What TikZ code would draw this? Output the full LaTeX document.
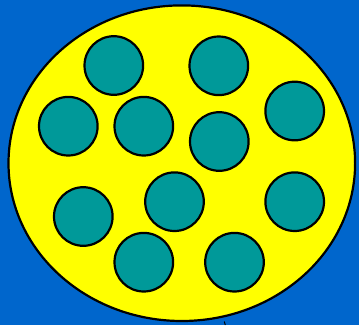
\documentclass[tikz,border=0pt]{standalone}
\usetikzlibrary{shapes.geometric}
\definecolor{bgblue}{RGB}{0,102,204}
\definecolor{cellyellow}{RGB}{255,255,0}
\definecolor{dotteal}{RGB}{0,153,153}
\tikzset{
  dot/.style={circle, draw=black, line width=2.2pt, fill=dotteal, inner sep=0pt, minimum size=58.6pt},
  cell/.style={ellipse, draw=black, line width=2.2pt, fill=cellyellow, inner sep=0pt, minimum width=346.6pt, minimum height=315.6pt}
}
\begin{document}
\begin{tikzpicture}[x=1pt,y=-1pt]
\fill[bgblue] (0,0) rectangle (359,325);
\useasboundingbox (0,0) rectangle (359,325);
\node[cell] (big) at (181.8,163.2) {};
\node[dot] (c1) at (113.8,65.5) {};
\node[dot] (c2) at (218.8,65.8) {};
\node[dot] (c3) at (68.3,126.2) {};
\node[dot] (c4) at (143.8,126.2) {};
\node[dot] (c5) at (219.3,141.5) {};
\node[dot] (c6) at (294.7,111) {};
\node[dot] (c7) at (83.3,216.5) {};
\node[dot] (c8) at (174.5,201.7) {};
\node[dot] (c9) at (294.7,201.7) {};
\node[dot] (c10) at (143.8,262.2) {};
\node[dot] (c11) at (234.5,262.2) {};
\coordinate (t1) at (224.3,321.5);
\coordinate (t2) at (225.3,325);
\draw[line width=1pt] (t1) -- (t2);
\end{tikzpicture}
\end{document}
